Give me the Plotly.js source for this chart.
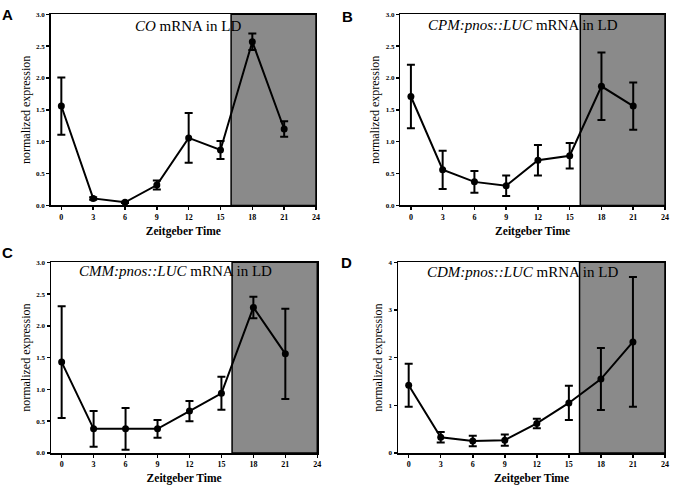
<!DOCTYPE html>
<html>
<head>
<meta charset="utf-8">
<script src="https://cdn.plot.ly/plotly-3.0.1.min.js"></script>
<style>
  body { margin: 0; background: #fff; }
  #chart { width: 680px; height: 488px; }
</style>
</head>
<body>
<div id="chart"></div>
<script>
// Zeitgeber time points (hours)
var zt = [0, 3, 6, 9, 12, 15, 18, 21];

// A: CO mRNA
var coMean = [1.56, 0.11, 0.05, 0.32, 1.06, 0.87, 2.57, 1.20];
var coErr  = [0.45, 0.02, 0.01, 0.07, 0.39, 0.14, 0.13, 0.12];

// B: CPM:pnos::LUC mRNA
var cpmMean = [1.71, 0.56, 0.37, 0.31, 0.71, 0.78, 1.87, 1.56];
var cpmErr  = [0.50, 0.30, 0.17, 0.16, 0.24, 0.20, 0.53, 0.37];

// C: CMM:pnos::LUC mRNA
var cmmMean = [1.43, 0.38, 0.38, 0.38, 0.66, 0.94, 2.29, 1.56];
var cmmErr  = [0.88, 0.28, 0.33, 0.14, 0.16, 0.26, 0.17, 0.71];

// D: CDM:pnos::LUC mRNA
var cdmMean = [1.42, 0.33, 0.25, 0.27, 0.62, 1.05, 1.55, 2.33];
var cdmErr  = [0.45, 0.11, 0.11, 0.12, 0.10, 0.36, 0.65, 1.36];

var titles = [
  '<i>CO</i> mRNA in LD',
  '<i>CPM:pnos::LUC</i> mRNA in LD',
  '<i>CMM:pnos::LUC</i> mRNA in LD',
  '<i>CDM:pnos::LUC</i> mRNA in LD'
];
var letters = ['A', 'B', 'C', 'D'];
var xTicks = [0, 3, 6, 9, 12, 15, 18, 21, 24];
var darkStart = 16, darkEnd = 24;

var serif = "'Liberation Serif', 'Times New Roman', serif";

// one trace per panel
function make_trace(mean, err, n){
  return {
    x: zt,
    y: mean,
    xaxis: 'x' + (n == 1 ? '' : n),
    yaxis: 'y' + (n == 1 ? '' : n),
    mode: 'lines+markers',
    line: {color: '#000', width: 2},
    marker: {color: '#000', size: 7},
    error_y: {type: 'data', array: err, visible: true, color: '#000', thickness: 2, width: 4},
    cliponaxis: false,
    showlegend: false,
    hoverinfo: 'x+y'
  };
}

var data = [
  make_trace(coMean, coErr, 1),
  make_trace(cpmMean, cpmErr, 2),
  make_trace(cmmMean, cmmErr, 3),
  make_trace(cdmMean, cdmErr, 4)
];

// plot area of each panel in paper units
var xDomains = [[0.0746, 0.4647], [0.5887, 0.9779], [0.0750, 0.4666], [0.5853, 0.9779]];
var yDomains = [[0.5790, 0.9707], [0.5790, 0.9707], [0.0717, 0.4625], [0.0717, 0.4625]];
var yRanges = [[0, 3], [0, 3], [0, 3], [0, 4]];
var yDticks = [0.5, 0.5, 0.5, 1];
var yFormats = ['.1f', '.1f', '.1f', 'd'];

// title and letter positions (paper)
var titlePos = [[0.2765, 0.9467], [0.7687, 0.9488], [0.2584, 0.4453], [0.7690, 0.4420]];
var letterPos = [[0.0103, 0.9713], [0.511, 0.9662], [0.0103, 0.4836], [0.510, 0.4631]];

var layout = {
  width: 680,
  height: 488,
  margin: {l: 0, r: 0, t: 0, b: 0},
  font: {family: serif, color: '#000'},
  paper_bgcolor: '#fff',
  plot_bgcolor: '#fff',
  shapes: [],
  annotations: []
};

for (var i = 0; i < 4; i++){
  var s = (i == 0 ? '' : String(i + 1));
  layout['xaxis' + s] = {
    domain: xDomains[i],
    anchor: 'y' + s,
    range: [-1, 24],
    tickvals: xTicks,
    ticks: 'outside',
    ticklen: 3,
    tickwidth: 1.5,
    tickcolor: '#000',
    showline: true,
    linecolor: '#000',
    linewidth: 1.5,
    mirror: true,
    showgrid: false,
    zeroline: false,
    tickfont: {family: serif, size: 8, color: '#000', weight: 700},
    title: {text: 'Zeitgeber Time', standoff: 6, font: {family: serif, size: 11.5, color: '#000', weight: 700}}
  };
  layout['yaxis' + s] = {
    domain: yDomains[i],
    anchor: 'x' + s,
    range: yRanges[i],
    dtick: yDticks[i],
    tickformat: yFormats[i],
    ticks: 'outside',
    ticklen: 3,
    tickwidth: 1.5,
    tickcolor: '#000',
    showline: true,
    linecolor: '#000',
    linewidth: 1.5,
    mirror: true,
    showgrid: false,
    zeroline: false,
    tickfont: {family: serif, size: 7, color: '#000', weight: 700},
    title: {text: 'normalized expression', standoff: 3, font: {family: serif, size: 12, color: '#000'}}
  };
  // dark phase
  layout.shapes.push({
    type: 'rect',
    xref: 'x' + s,
    yref: 'y' + s + ' domain',
    x0: darkStart, x1: darkEnd, y0: 0, y1: 1,
    fillcolor: '#8a8a8a',
    line: {color: '#000', width: 1.5},
    layer: 'below'
  });
  layout.annotations.push({
    xref: 'paper', yref: 'paper',
    x: titlePos[i][0], y: titlePos[i][1],
    xanchor: 'center', yanchor: 'middle',
    text: titles[i],
    showarrow: false,
    font: {family: serif, size: 15, color: '#000'}
  });
  layout.annotations.push({
    xref: 'paper', yref: 'paper',
    x: letterPos[i][0], y: letterPos[i][1],
    xanchor: 'center', yanchor: 'middle',
    text: '<b>' + letters[i] + '</b>',
    showarrow: false,
    font: {family: "'Liberation Sans', Arial, sans-serif", size: 15, color: '#000'}
  });
}

Plotly.newPlot('chart', data, layout, {displayModeBar: false, staticPlot: true});
</script>
</body>
</html>
